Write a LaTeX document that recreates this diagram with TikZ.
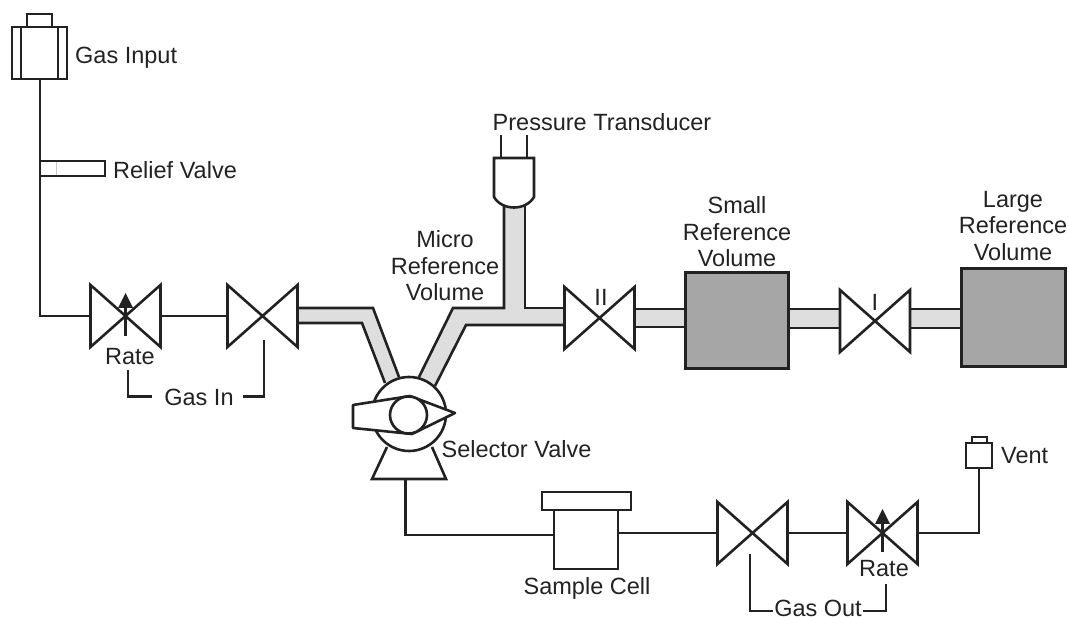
\documentclass[tikz,border=0pt]{standalone}
\usepackage{fontspec}
\setmainfont{Liberation Sans}
\definecolor{ink}{HTML}{222222}
\definecolor{pipe}{HTML}{DEDEDE}
\definecolor{vol}{HTML}{A6A6A6}
\tikzset{
  x=1pt,y=-1pt,
  ln/.style={draw=ink,line width=2.6pt,line join=miter,line cap=butt},
  lbl/.style={text=ink,font=\fontsize{23.5}{26.5}\selectfont,inner sep=0pt,align=center},
  vbox/.style={draw=ink,line width=3pt,fill=vol,inner sep=0pt},
  wbox/.style={ln,fill=white,inner sep=0pt},
}
\newcommand{\valve}[3]{% centre x, centre y, name
  \draw[ln,fill=white,line join=miter] (#1-35,#2-31) -- (#1+35,#2+31) -- (#1+35,#2-31) -- (#1-35,#2+31) -- cycle;
  \coordinate (#3-l) at (#1-35,#2);
  \coordinate (#3-r) at (#1+35,#2);
}
\newcommand{\ratearrow}[2]{%
  \draw[ln,line width=2.2pt] (#1,#2-10) -- (#1,#2+19);
  \fill[ink] (#1,#2-24) -- (#1+7.5,#2-9) -- (#1-7.5,#2-9) -- cycle;
}
\begin{document}
\begin{tikzpicture}
\useasboundingbox (0,0) rectangle (1069,617);
% pipes
\fill[pipe] (297,308) -- (373,308) -- (399,377) -- (419,377) -- (453,308) -- (504,308) -- (504,205) -- (525,205) -- (525,308) -- (565,308) -- (565,325) -- (466,325) -- (435,386) -- (385,383) -- (362,323) -- (297,323) -- cycle;
\fill[pipe] (634,309) rectangle (685,327);
\fill[pipe] (788,309) rectangle (840,328);
\fill[pipe] (909,309) rectangle (961,328);
\draw[ln] (297,308) -- (373,308) -- (399,377);
\draw[ln] (297,323) -- (362,323) -- (385,383);
\draw[ln] (419,377) -- (453,308) -- (504,308) -- (504,205);
\draw[ln] (435,386) -- (466,325) -- (565,325);
\draw[ln] (525,205) -- (525,308) -- (565,308);
\draw[ln] (634,309) -- (685,309) (634,327) -- (685,327);
\draw[ln] (788,309) -- (840,309) (788,328) -- (840,328);
\draw[ln] (909,309) -- (961,309) (909,328) -- (961,328);
% volumes
\node[vbox,minimum width=103pt,minimum height=96pt] (smallV) at (736.5,321) {};
\node[vbox,minimum width=104pt,minimum height=98pt] (largeV) at (1013,318) {};
% gas input
\node[wbox,minimum width=25pt,minimum height=13pt] (gascap) at (39.5,20.5) {};
\node[wbox,minimum width=55pt,minimum height=52pt] (gasbox) at (39.5,53) {};
\draw[ln] (21,27) -- (21,79) (58,27) -- (58,79);
% relief
\node[wbox,minimum width=65pt,minimum height=15pt] (relief) at (72.5,168.5) {};
\draw[draw=ink!25,line width=.7pt] (56,162) -- (56,175);
% valves
\valve{125.5}{316}{vA}
\valve{262.5}{316}{vB}
\valve{599.5}{318}{vII}
\valve{875}{321}{vI}
\valve{752.5}{533}{vC}
\valve{882.5}{533}{vD}
\ratearrow{125.5}{317}
\ratearrow{882.5}{533}
% transducer
\draw[ln,fill=white] (494,158) -- (534,158) -- (534,197) .. controls (526,211) and (502,211) .. (494,197) -- cycle;
\draw[ln] (501,135) -- (501,158) (527,135) -- (527,158);
% selector
\draw[ln,fill=white] (387,447) -- (372,479) -- (446,479) -- (432,447);
\node[draw=ink,line width=2.6pt,fill=white,circle,minimum size=74pt,inner sep=0pt] (selC) at (409,414) {};
\draw[ln,fill=white,line join=round] (353,405) -- (410,396) -- (455,413) -- (412,434) -- (353,428) -- cycle;
\node[draw=ink,line width=2.6pt,fill=white,circle,minimum size=37pt,inner sep=0pt] (selIn) at (408.5,415) {};
% sample cell
\node[wbox,minimum width=64pt,minimum height=59pt] (cell) at (586,539.5) {};
\node[wbox,minimum width=89pt,minimum height=18pt] (cellcap) at (586.5,501) {};
% vent
\node[wbox,minimum width=15pt,minimum height=7pt] (ventcap) at (979.5,440.5) {};
\node[wbox,minimum width=26pt,minimum height=25pt] (vent) at (979,455.5) {};
% connectors
\coordinate (inCorner) at (40,316);
\coordinate (selStem) at (405.5,479);
\coordinate (selCorner) at (405.5,535);
\coordinate (ventCorner) at (979,533);
\draw[ln] (gasbox.south) ++(.5,0) -- (inCorner) -- (vA-l);
\draw[ln] (vA-r) -- (vB-l);
\draw[ln] (selStem) -- (selCorner) -- (cell.west |- selCorner);
\draw[ln] (cell.east |- vC-l) -- (vC-l);
\draw[ln] (vC-r) -- (vD-l);
\draw[ln] (vD-r) -- (ventCorner) -- (vent.south);
% labels
\node[lbl,anchor=west] (tGas) at (75,58) {Gas Input};
\node[lbl,anchor=west] (tRelief) at (113,170) {Relief Valve};
\node[lbl] (tPT) at (602,122) {Pressure Transducer};
\node[lbl] (tMicro) at (445,266) {Micro\\Reference\\Volume};
\node[lbl] (tSmall) at (737,232) {Small\\Reference\\Volume};
\node[lbl] (tLarge) at (1013,226) {Large\\Reference\\Volume};
\node[lbl] (tRateA) at (130,357) {Rate};
\node[lbl] (tGasIn) at (199,397) {Gas In};
\node[lbl] (tSel) at (516.5,449) {Selector Valve};
\node[lbl] (tCell) at (587,588) {Sample Cell};
\node[lbl,anchor=west] (tVent) at (1001,456) {Vent};
\node[lbl] (tRateB) at (884,569) {Rate};
\node[lbl,anchor=base] (tGasOut) at (818,616) {Gas Out};
\node[lbl] (tII) at (601,297) {II};
\node[lbl] (tI) at (875,302) {I};
% brackets
\coordinate (brA) at (128,396.5);
\coordinate (brB) at (264,396.5);
\coordinate (brC) at (750,611);
\coordinate (brD) at (886,611);
\draw[ln] (128,370) -- (brA) -- (152,396.5);
\draw[ln] (243,396.5) -- (brB) -- (264,340);
\draw[ln] (750,554) -- (brC) -- (773,611);
\draw[ln] (863,611) -- (brD) -- (886,584);
\end{tikzpicture}
\end{document}
